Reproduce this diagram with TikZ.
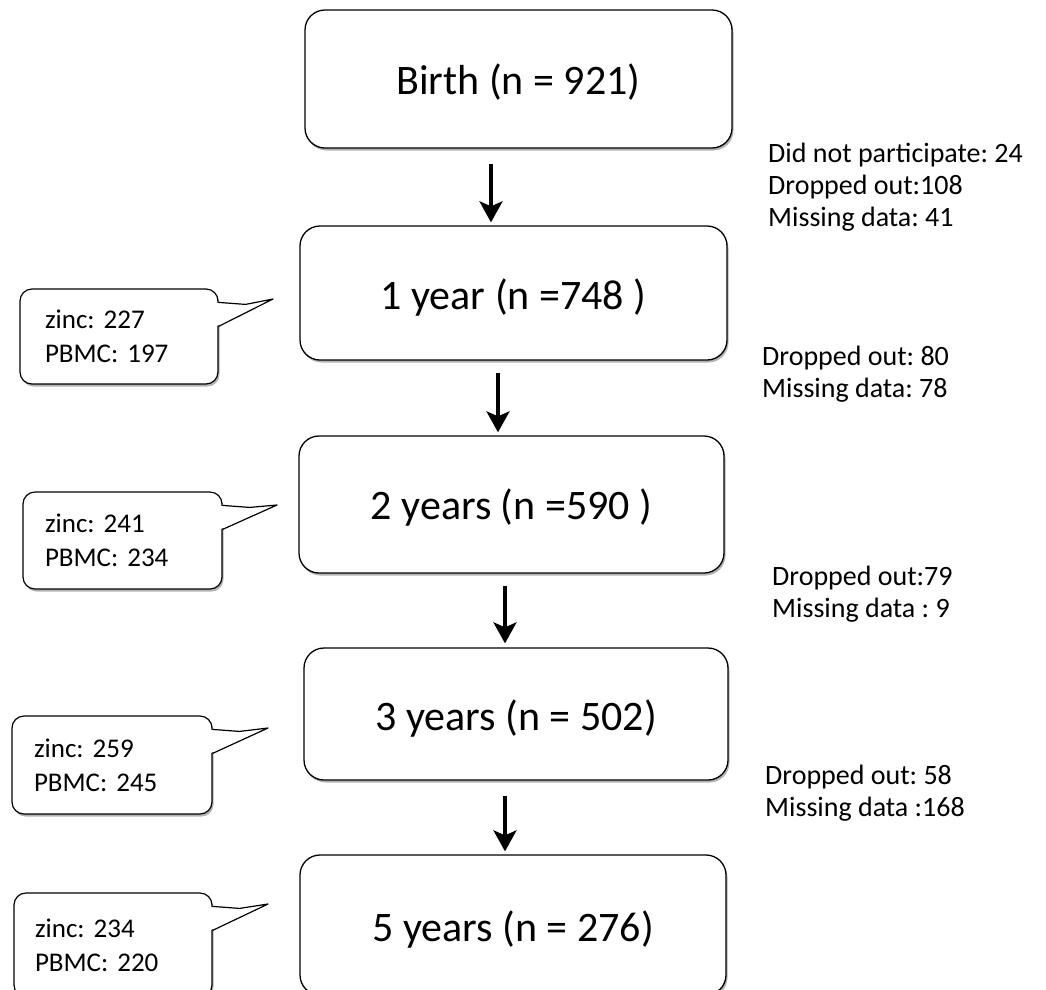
\documentclass[tikz,border=0pt]{standalone}
\usepackage{fontspec}
\setmainfont{Carlito}
\usetikzlibrary{arrows.meta,shadows,calc}
\frenchspacing
\newcommand{\lowr}[2]{\raisebox{-#1}[\height][\depth]{#2}}
\begin{document}
\begin{tikzpicture}[x=1pt,y=-1pt,
  shad/.style={drop shadow={shadow xshift=1.5pt,shadow yshift=-2.5pt,opacity=0.3,fill=black}},
  stage/.style={draw,line width=1.3pt,rounded corners=20pt,fill=white,shad,
    font=\fontsize{42}{50}\selectfont,inner sep=0pt},
  callbody/.style={draw,line width=1.2pt,rounded corners=12pt,fill=white,shad,
    font=\fontsize{27}{34}\selectfont,align=left,inner ysep=0pt},
  note/.style={font=\fontsize{28}{32}\selectfont,align=left,anchor=west,inner sep=0pt},
  arr/.style={line width=3.5pt,-{Stealth[length=21pt,width=23pt,inset=5pt]}},
  tailline/.style={line width=1.2pt,line join=round}
]
\useasboundingbox (0,0) rectangle (1046,989);

% main stage boxes
\node[stage,minimum width=427pt,minimum height=138pt] (b0) at (518.5,79) {\lowr{3pt}{Birth (n = 921)}};
\node[stage,minimum width=427pt,minimum height=134pt] (b1) at (513.5,293) {\lowr{5pt}{1 year (n =748 )}};
\node[stage,minimum width=425pt,minimum height=137pt] (b2) at (511.5,504.5) {\lowr{3pt}{2 years (n =590 )}};
\node[stage,minimum width=424pt,minimum height=132pt] (b3) at (516,714) {\lowr{5pt}{3 years (n = 502)}};
\node[stage,minimum width=426pt,minimum height=140pt] (b4) at (513,925) {\lowr{5pt}{5 years (n = 276)}};

% arrows
\coordinate (ax1) at (491,0);
\coordinate (ax2) at (498,0);
\coordinate (ax3) at (505,0);
\coordinate (ax4) at (505,0);
\draw[arr,shorten <=15pt,shorten >=3pt] (b0.south -| ax1) -- (b1.north -| ax1);
\draw[arr,shorten <=12pt,shorten >=3pt] (b1.south -| ax2) -- (b2.north -| ax2);
\draw[arr,shorten <=12pt,shorten >=4pt] (b2.south -| ax3) -- (b3.north -| ax3);
\draw[arr,shorten <=15pt,shorten >=3pt] (b3.south -| ax4) -- (b4.north -| ax4);

% callouts
\node[callbody,minimum width=198pt,minimum height=95pt,inner xsep=25pt,text width=148pt] (c1) at (119,336.5) {zinc: 227\\PBMC: 197};
\node[callbody,minimum width=199pt,minimum height=97pt,inner xsep=22pt,text width=155pt] (c2) at (122.5,540.5) {zinc: 241\\PBMC: 234};
\node[callbody,minimum width=200pt,minimum height=98pt,inner xsep=22pt,text width=156pt] (c3) at (112,765) {zinc: 259\\PBMC: 245};
\node[callbody,minimum width=198pt,minimum height=104pt,inner xsep=21pt,text width=156pt] (c4) at (113,945) {zinc: 234\\PBMC: 220};

\coordinate (t1) at (273,299);
\coordinate (t2) at (277,505);
\coordinate (t3) at (268,728);
\coordinate (t4) at (268,904);

\foreach \c/\t in {c1/t1,c2/t2,c3/t3,c4/t4}{
  \fill[white] ([xshift=-1.5pt,yshift=-14.6pt]\c.north east) -- ([xshift=27pt,yshift=-16pt]\c.north east) -- (\t)
     -- ([xshift=-1.5pt,yshift=-37.4pt]\c.north east) -- cycle;
  \draw[tailline] ([yshift=-14pt]\c.north east) -- ([xshift=27pt,yshift=-16pt]\c.north east) -- (\t)
     -- ([yshift=-38pt]\c.north east);
}

% right-hand notes
\node[note] (n1) at (768,187) {Did not participate: 24\\Dropped out:108\\Missing data: 41};
\node[note] (n2) at (762,374) {Dropped out: 80\\Missing data: 78};
\node[note] (n3) at (772,594) {Dropped out:79\\Missing data : 9};
\node[note] (n4) at (765,793) {Dropped out: 58\\Missing data :168};
\end{tikzpicture}
\end{document}
